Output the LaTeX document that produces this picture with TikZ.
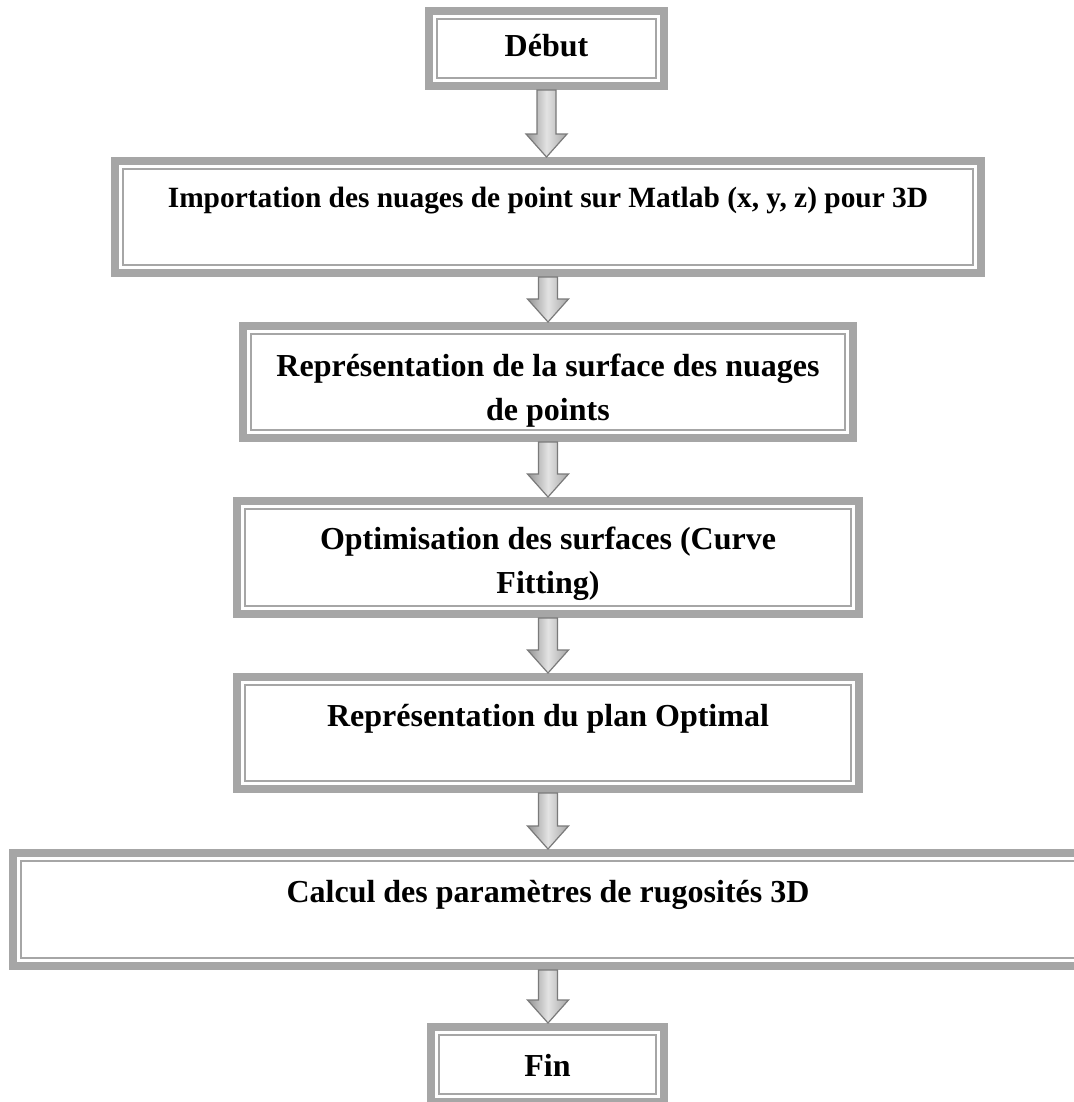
\documentclass[tikz,border=0pt]{standalone}
\usepackage{fontspec}
\setmainfont{Liberation Serif}
\usepackage{tikz}
\usetikzlibrary{calc}

\definecolor{cadregris}{HTML}{A6A6A6}
\definecolor{flechebord}{HTML}{7A7A7A}

\tikzset{
  cadre/.style={draw=cadregris, line width=4pt, fill=white, inner sep=0pt,
    path picture={\draw[cadregris, line width=1pt]
      ([shift={(3.9pt,-3.9pt)}]path picture bounding box.north west) rectangle
      ([shift={(-3.9pt,3.9pt)}]path picture bounding box.south east);}},
  etiq/.style={font=\bfseries\fontsize{16}{22}\selectfont, align=center, anchor=base, inner sep=0pt},
  fleche/.style={draw=flechebord, line width=0.6pt, left color=gray!85, right color=gray!70, middle color=gray!22}
}

% grosse fleche grise entre deux cadres
\newcommand\grossefleche[2]{%
  \path[fleche] let \p1=(#1.south), \p2=(#2.north) in
    (\x1-4.75pt,\y1) -- (\x1+4.75pt,\y1) -- (\x1+4.75pt,\y2+11.5pt) -- (\x1+10.25pt,\y2+11.5pt)
    -- (\x1,\y2) -- (\x1-10.25pt,\y2+11.5pt) -- (\x1-4.75pt,\y2+11.5pt) -- cycle;}

\begin{document}
\begin{tikzpicture}[x=0.5pt, y=-0.5pt]
\useasboundingbox (0,0) rectangle (1074,1102);
\clip (0,0) rectangle (1074,1102);

% --- Cadres ---
\node[cadre, minimum width=117.5pt, minimum height=37.5pt] (debut) at (546.5,48.5) {};
\node[cadre, minimum width=433pt, minimum height=56pt] (import) at (548,217) {};
\node[cadre, minimum width=305pt, minimum height=56pt] (surface) at (548,382) {};
\node[cadre, minimum width=311pt, minimum height=56.5pt] (optim) at (548,557.5) {};
\node[cadre, minimum width=311pt, minimum height=56pt] (plan) at (548,733) {};
\node[cadre, minimum width=535pt, minimum height=56.5pt] (calcul) at (548,909.5) {};
\node[cadre, minimum width=116.5pt, minimum height=37.5pt] (fin) at (547.5,1064.5) {};

% --- Textes (base = derniere ligne) ---
\node[etiq] (tdebut) at ([yshift=-25pt]debut.north) {Début};
\node[etiq, font=\bfseries\fontsize{14.7}{20}\selectfont] (timport) at ([yshift=-25pt]import.north)
  {Importation des nuages de point sur Matlab (x, y, z) pour 3D};
\node[etiq] (tsurface) at ([yshift=-49pt]surface.north)
  {Représentation de la surface des nuages\\de points};
\node[etiq] (toptim) at ([yshift=-48pt]optim.north)
  {Optimisation des surfaces (Curve\\Fitting)};
\node[etiq] (tplan) at ([yshift=-26.5pt]plan.north) {Représentation du plan Optimal};
\node[etiq] (tcalcul) at ([yshift=-26.5pt]calcul.north) {Calcul des paramètres de rugosités 3D};
\node[etiq] (tfin) at ([yshift=-26.5pt]fin.north) {Fin};

% --- Fleches ---
\grossefleche{debut}{import}
\grossefleche{import}{surface}
\grossefleche{surface}{optim}
\grossefleche{optim}{plan}
\grossefleche{plan}{calcul}
\grossefleche{calcul}{fin}
\end{tikzpicture}
\end{document}
